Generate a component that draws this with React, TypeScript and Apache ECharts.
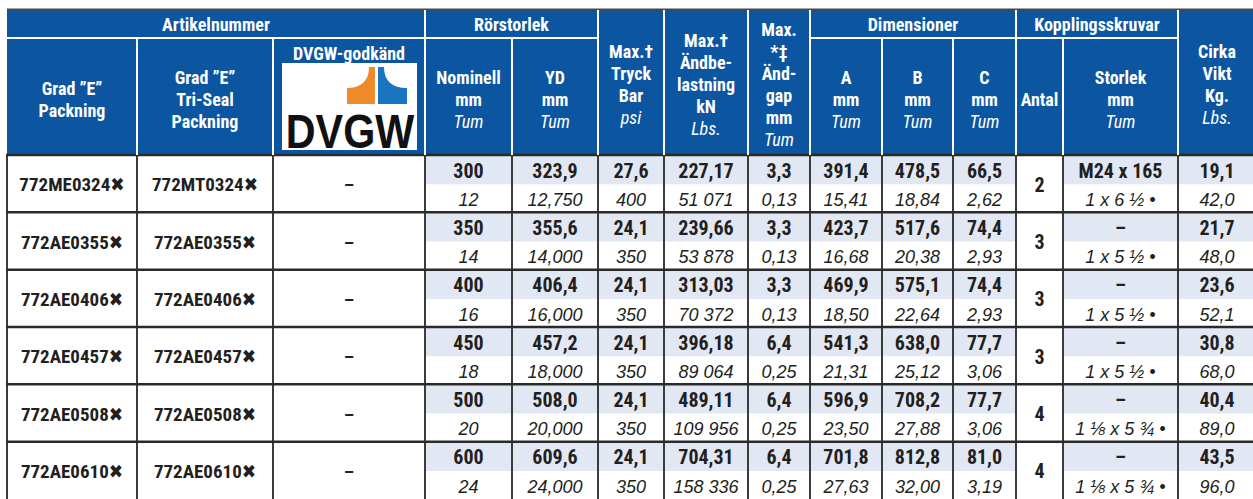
import React, { useEffect, useRef } from "react";
import * as echarts from "echarts";

// ---------- data ----------
const gradE = ["772ME0324✖", "772AE0355✖", "772AE0406✖", "772AE0457✖", "772AE0508✖", "772AE0610✖"];
const triSeal = ["772MT0324✖", "772AE0355✖", "772AE0406✖", "772AE0457✖", "772AE0508✖", "772AE0610✖"];
const dvgwCode = ["–", "–", "–", "–", "–", "–"];
const nominalMm = ["300", "350", "400", "450", "500", "600"];
const nominalIn = ["12", "14", "16", "18", "20", "24"];
const odMm = ["323,9", "355,6", "406,4", "457,2", "508,0", "609,6"];
const odIn = ["12,750", "14,000", "16,000", "18,000", "20,000", "24,000"];
const pressBar = ["27,6", "24,1", "24,1", "24,1", "24,1", "24,1"];
const pressPsi = ["400", "350", "350", "350", "350", "350"];
const loadKn = ["227,17", "239,66", "313,03", "396,18", "489,11", "704,31"];
const loadLbs = ["51 071", "53 878", "70 372", "89 064", "109 956", "158 336"];
const gapMm = ["3,3", "3,3", "3,3", "6,4", "6,4", "6,4"];
const gapIn = ["0,13", "0,13", "0,13", "0,25", "0,25", "0,25"];
const dimAmm = ["391,4", "423,7", "469,9", "541,3", "596,9", "701,8"];
const dimAin = ["15,41", "16,68", "18,50", "21,31", "23,50", "27,63"];
const dimBmm = ["478,5", "517,6", "575,1", "638,0", "708,2", "812,8"];
const dimBin = ["18,84", "20,38", "22,64", "25,12", "27,88", "32,00"];
const dimCmm = ["66,5", "74,4", "74,4", "77,7", "77,7", "81,0"];
const dimCin = ["2,62", "2,93", "2,93", "3,06", "3,06", "3,19"];
const boltQty = ["2", "3", "3", "3", "4", "4"];
const boltMm = ["M24 x 165", "–", "–", "–", "–", "–"];
const boltIn = ["1 x 6 ½ •", "1 x 5 ½ •", "1 x 5 ½ •", "1 x 5 ½ •", "1 ⅛ x 5 ¾ •", "1 ⅛ x 5 ¾ •"];
const weightKg = ["19,1", "21,7", "23,6", "30,8", "40,4", "43,5"];
const weightLbs = ["42,0", "48,0", "52,1", "68,0", "89,0", "96,0"];

// header texts
const groupHeaders = [
  { text: "Artikelnummer", from: 0, to: 3 },
  { text: "Rörstorlek", from: 3, to: 5 },
  { text: "Dimensioner", from: 8, to: 11 },
  { text: "Kopplingsskruvar", from: 11, to: 13 },
];
// each line: [text, italic?]
const colHeaders: { lines: [string, boolean][]; span: boolean }[] = [
  { lines: [["Grad ”E”", false], ["Packning", false]], span: false },
  { lines: [["Grad ”E”", false], ["Tri-Seal", false], ["Packning", false]], span: false },
  { lines: [], span: false },
  { lines: [["Nominell", false], ["mm", false], ["Tum", true]], span: false },
  { lines: [["YD", false], ["mm", false], ["Tum", true]], span: false },
  { lines: [["Max.†", false], ["Tryck", false], ["Bar", false], ["psi", true]], span: true },
  { lines: [["Max.†", false], ["Ändbe-", false], ["lastning", false], ["kN", false], ["Lbs.", true]], span: true },
  { lines: [["Max.", false], ["*‡", false], ["Änd-", false], ["gap", false], ["mm", false], ["Tum", true]], span: true },
  { lines: [["A", false], ["mm", false], ["Tum", true]], span: false },
  { lines: [["B", false], ["mm", false], ["Tum", true]], span: false },
  { lines: [["C", false], ["mm", false], ["Tum", true]], span: false },
  { lines: [["Antal", false]], span: false },
  { lines: [["Storlek", false], ["mm", false], ["Tum", true]], span: false },
  { lines: [["Cirka", false], ["Vikt", false], ["Kg.", false], ["Lbs.", true]], span: true },
];

// ---------- layout / style ----------
const W = 1253;
const H = 499;
const colEdges = [7, 137, 273, 425, 512, 598, 664, 748, 810, 882, 953, 1016, 1063, 1178, 1256];
const HEAD_TOP = 10;
const HEAD_MID = 38;
const HEAD_BOT = 155;
const ROW_H = 58;
const BLUE = "#0b55a1";
const SHADE = "#e2e8f3";
const INK = "#231f20";
const FONT_N = '"Liberation Sans Narrow", "Arial Narrow", "Roboto Condensed", "DejaVu Sans Condensed", sans-serif';
const FONT_R = '"Liberation Sans", Arial, Helvetica, sans-serif';

echarts.graphic.registerShape(
  "dvgwOrange",
  echarts.graphic.extendPath("M369,67 L375,67 L375,104 L347,104 L347,88 C361,88 369,81 369,67 Z", {})
);
echarts.graphic.registerShape(
  "dvgwBlue",
  echarts.graphic.extendPath("M378,67 L384,67 C384,81 392,88 407,88 L407,104 L378,104 Z", {})
);

function txt(x: number, y: number, text: string, o: any = {}) {
  return {
    type: "text",
    silent: true,
    style: {
      text,
      x,
      y,
      fill: o.fill ?? INK,
      fontSize: o.size ?? 18,
      fontFamily: o.family ?? FONT_N,
      fontWeight: o.weight ?? "bold",
      fontStyle: o.style ?? "normal",
      align: "center",
      verticalAlign: "middle",
      textAlign: "center",
      textVerticalAlign: "middle",
    },
    z: o.z ?? 10,
  };
}

function cellsFor(i: number) {
  return [
    { single: gradE[i], size: 19 },
    { single: triSeal[i], size: 19 },
    { single: dvgwCode[i], size: 19 },
    { top: nominalMm[i], bot: nominalIn[i] },
    { top: odMm[i], bot: odIn[i] },
    { top: pressBar[i], bot: pressPsi[i] },
    { top: loadKn[i], bot: loadLbs[i] },
    { top: gapMm[i], bot: gapIn[i] },
    { top: dimAmm[i], bot: dimAin[i] },
    { top: dimBmm[i], bot: dimBin[i] },
    { top: dimCmm[i], bot: dimCin[i] },
    { single: boltQty[i], size: 20 },
    { top: boltMm[i], bot: boltIn[i] },
    { top: weightKg[i], bot: weightLbs[i] },
  ];
}

function buildHeader() {
  const els: any[] = [];
  const right = W;
  els.push({ type: "rect", shape: { x: colEdges[0], y: HEAD_TOP, width: right - colEdges[0], height: HEAD_BOT - HEAD_TOP }, style: { fill: BLUE }, z: 1 });
  els.push({ type: "line", shape: { x1: colEdges[0], y1: 9.5, x2: right, y2: 9.5 }, style: { stroke: "#4a4a4a", lineWidth: 2 }, z: 2 });
  // white separators
  const fullEdges = new Set<number>([3, 5, 6, 7, 8, 11, 13]);
  for (let c = 1; c < colEdges.length - 1; c++) {
    const x = colEdges[c];
    const y1 = fullEdges.has(c) ? HEAD_TOP : HEAD_MID;
    els.push({ type: "line", shape: { x1: x, y1, x2: x, y2: HEAD_BOT }, style: { stroke: "#ffffff", lineWidth: 2 }, z: 3 });
  }
  groupHeaders.forEach((g) => {
    els.push({ type: "line", shape: { x1: colEdges[g.from], y1: HEAD_MID, x2: colEdges[g.to], y2: HEAD_MID }, style: { stroke: "#ffffff", lineWidth: 2 }, z: 3 });
    els.push(txt((colEdges[g.from] + colEdges[g.to]) / 2, (HEAD_TOP + HEAD_MID) / 2 + 0.5, g.text, { fill: "#fff", size: 18 }));
  });
  colHeaders.forEach((h, c) => {
    const cx = (colEdges[c] + colEdges[c + 1]) / 2;
    const cy = h.span ? 84 : 99;
    const n = h.lines.length;
    h.lines.forEach(([t, it], k) => {
      const y = cy + (k - (n - 1) / 2) * 22;
      els.push(
        txt(cx, y, t, {
          fill: "#fff",
          size: 18,
          weight: it ? "normal" : "bold",
          style: it ? "italic" : "normal",
        })
      );
    });
  });
  // DVGW column
  els.push(txt(349, 53, "DVGW-godkänd", { fill: "#fff", size: 18 }));
  els.push({ type: "rect", shape: { x: 282, y: 63, width: 135, height: 87 }, style: { fill: "#ffffff" }, z: 4 });
  els.push({ type: "dvgwOrange", style: { fill: "#ef8a2b" }, z: 5 });
  els.push({ type: "dvgwBlue", style: { fill: "#1b74bf" }, z: 5 });
  els.push({
    type: "group",
    x: 350,
    y: 131,
    scaleX: 0.86,
    z: 5,
    children: [txt(0, 0, "DVGW", { size: 48, family: FONT_R, fill: "#111", z: 6 })],
  });
  return els;
}

export default function App() {
  const ref = useRef<HTMLDivElement>(null);
  useEffect(() => {
    const chart = echarts.init(ref.current!, null, { renderer: "svg" });
    const option: any = {
      animation: false,
      backgroundColor: "#ffffff",
      grid: { left: 0, top: HEAD_BOT, width: W, height: ROW_H * nominalMm.length },
      xAxis: { type: "value", min: 0, max: W, show: false },
      yAxis: { type: "category", data: nominalMm, inverse: true, show: false },
      graphic: { elements: buildHeader() },
      series: [
        {
          type: "custom",
          clip: false,
          data: nominalMm.map((_, i) => [0, i]),
          renderItem: (params: any, api: any) => {
            const i = params.dataIndex;
            const ctr = api.coord([0, i]);
            const bh = api.size([0, 1])[1];
            const top = ctr[1] - bh / 2;
            const px = (v: number) => api.coord([v, i])[0];
            const children: any[] = [];
            const cells = cellsFor(i);
            cells.forEach((cell: any, c) => {
              const x0 = px(colEdges[c]);
              const x1 = px(colEdges[c + 1]);
              const cx = (x0 + x1) / 2;
              if (cell.single !== undefined) {
                children.push(txt(cx, top + bh / 2 + 1, cell.single, { size: cell.size }));
              } else {
                children.push({ type: "rect", shape: { x: x0, y: top, width: x1 - x0, height: bh * 0.51 }, style: { fill: SHADE }, z: 1 });
                children.push(txt(cx, top + 15.5, cell.top, { size: 20 }));
                children.push(txt(cx, top + 45, cell.bot, { size: 18, family: FONT_R, weight: "normal", style: "italic" }));
              }
            });
            // vertical lines
            for (let c = 0; c < colEdges.length - 1; c++) {
              const x = px(colEdges[c]);
              children.push({ type: "line", shape: { x1: x, y1: top, x2: x, y2: top + bh }, style: { stroke: "#3c3c3c", lineWidth: 2 }, z: 5 });
            }
            // row top line
            children.push({ type: "line", shape: { x1: px(colEdges[0]) - 1, y1: top, x2: px(W), y2: top }, style: { stroke: "#2a2a2a", lineWidth: 2.5 }, z: 6 });
            return { type: "group", children };
          },
        },
      ],
    };
    chart.setOption(option);
    return () => chart.dispose();
  }, []);
  return <div ref={ref} style={{ position: "fixed", left: 0, top: 0, width: W, height: H, background: "#fff" }} />;
}
